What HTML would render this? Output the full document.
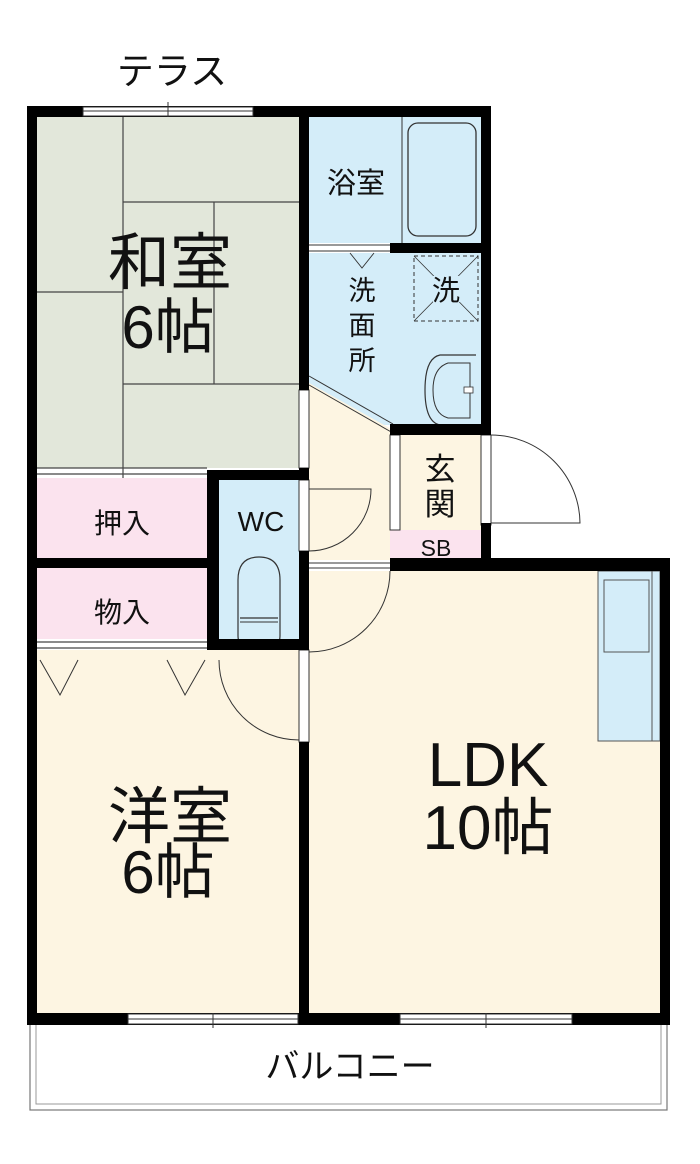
<!DOCTYPE html>
<html><head><meta charset="utf-8"><style>
html,body{margin:0;padding:0;background:#fff;}
svg{display:block;}
text{font-family:"Liberation Sans","Noto Sans CJK JP",sans-serif;fill:#111;}
</style></head><body>
<svg width="700" height="1164" viewBox="0 0 700 1164" xmlns="http://www.w3.org/2000/svg">
<rect x="30" y="1024" width="637" height="86" fill="#fff" stroke="#777" stroke-width="1.2"/>
<rect x="36" y="1024" width="625" height="80" fill="none" stroke="#999" stroke-width="1"/>
<rect x="37" y="117" width="262" height="351" fill="#e2e7da"/>
<rect x="309" y="117" width="172" height="126" fill="#d4edf9"/>
<rect x="309" y="253" width="172" height="172" fill="#d4edf9"/>
<polygon points="309,383 393,430 390,435 390,560 309,560" fill="#fdf5e2"/>
<rect x="400" y="435" width="81" height="95" fill="#fdf5e2"/>
<rect x="390" y="530" width="91" height="28" fill="#fbe3ee"/>
<rect x="37" y="478" width="170" height="80" fill="#fbe3ee"/>
<rect x="37" y="568" width="170" height="71" fill="#fbe3ee"/>
<rect x="219" y="480" width="80" height="159" fill="#d4edf9"/>
<rect x="37" y="650" width="262" height="363" fill="#fdf5e2"/>
<rect x="309" y="571" width="351" height="442" fill="#fdf5e2"/>
<rect x="598" y="571" width="62" height="170" fill="#d4edf9" stroke="#555" stroke-width="1"/>
<rect x="604" y="580" width="45" height="72" fill="none" stroke="#555" stroke-width="1"/>
<line x1="652" y1="571" x2="652" y2="741" stroke="#555" stroke-width="1"/>
<g stroke="#444" stroke-width="1.2">
<line x1="123" y1="117" x2="123" y2="478"/>
<line x1="123" y1="202" x2="299" y2="202"/>
<line x1="214" y1="202" x2="214" y2="384"/>
<line x1="123" y1="384" x2="299" y2="384"/>
<line x1="37" y1="292" x2="123" y2="292"/>
<line x1="37" y1="468" x2="207" y2="468"/>
<line x1="37" y1="474" x2="207" y2="474"/>
<line x1="37" y1="642" x2="207" y2="642"/>
<line x1="37" y1="648" x2="207" y2="648"/>
</g>
<rect x="408" y="123" width="68" height="113" rx="10" fill="#d4edf9" stroke="#333" stroke-width="1.3"/>
<line x1="402" y1="117" x2="402" y2="243" stroke="#333" stroke-width="1"/>
<rect x="414" y="256" width="64" height="65" fill="none" stroke="#333" stroke-width="1" stroke-dasharray="4,3"/>
<line x1="414" y1="256" x2="478" y2="321" stroke="#333" stroke-width="0.8"/>
<line x1="478" y1="256" x2="414" y2="321" stroke="#333" stroke-width="0.8"/>
<rect x="433" y="276" width="28" height="26" fill="#d4edf9"/>
<path d="M476,355 L440,355 Q425,358 425,390 Q425,422 440,425 L476,425" fill="#d4edf9" stroke="#333" stroke-width="1.2"/>
<path d="M470,363 L448,363 Q433,368 433,390 Q433,414 448,418 L470,418 Z" fill="none" stroke="#333" stroke-width="1"/>
<rect x="464" y="387" width="9" height="6" fill="#fff" stroke="#333" stroke-width="0.8"/>
<path d="M238,580 Q238,557 259,557 Q280,557 280,580 L280,636 Q280,646 270,646 L248,646 Q238,646 238,636 Z" fill="#d4edf9" stroke="#333" stroke-width="1.2"/>
<line x1="240" y1="618" x2="278" y2="618" stroke="#333" stroke-width="1.2"/>
<line x1="240" y1="622" x2="278" y2="622" stroke="#333" stroke-width="1"/>
<line x1="309" y1="245" x2="390" y2="245" stroke="#333" stroke-width="1"/>
<line x1="309" y1="251" x2="390" y2="251" stroke="#333" stroke-width="1"/>
<polyline points="350,253 362,268 374,253" fill="none" stroke="#333" stroke-width="0.9"/>
<line x1="309" y1="376" x2="393" y2="424" stroke="#333" stroke-width="1"/>
<line x1="309" y1="385" x2="393" y2="433" stroke="#333" stroke-width="1"/>
<g fill="none" stroke="#333" stroke-width="1">
<path d="M309,489 L371,489 A62,62 0 0 1 309,551"/>
<path d="M390,571 A81,81 0 0 1 309,652"/>
<path d="M219,660 A80,80 0 0 0 299,740"/>
<path d="M491,435 A89,89 0 0 1 580,523 L491,523"/>
<polyline points="40,660 60,695 78,660"/>
<polyline points="167,660 185,695 205,660"/>
<line x1="309" y1="563" x2="390" y2="563"/>
<line x1="309" y1="568" x2="390" y2="568"/>
<rect x="390" y="435" width="10" height="95"/>
<rect x="481" y="435" width="10" height="90"/>
<rect x="299" y="390" width="10" height="78"/>
<rect x="299" y="480" width="10" height="71"/>
<rect x="299" y="650" width="10" height="92"/>
</g>
<g fill="#000">
<rect x="27" y="106" width="10" height="919"/>
<rect x="27" y="106" width="464" height="11"/>
<rect x="299" y="106" width="10" height="284"/>
<rect x="481" y="106" width="10" height="329"/>
<rect x="390" y="243" width="101" height="10"/>
<rect x="390" y="424" width="101" height="11"/>
<rect x="481" y="523" width="10" height="47"/>
<rect x="390" y="558" width="280" height="13"/>
<rect x="660" y="558" width="10" height="467"/>
<rect x="27" y="1013" width="643" height="12"/>
<rect x="299" y="468" width="10" height="12"/>
<rect x="207" y="470" width="102" height="10"/>
<rect x="207" y="470" width="12" height="180"/>
<rect x="299" y="551" width="10" height="99"/>
<rect x="207" y="639" width="102" height="11"/>
<rect x="27" y="558" width="180" height="10"/>
<rect x="299" y="742" width="10" height="283"/>
</g>
<g fill="#fff" stroke="#333" stroke-width="1">
<rect x="83" y="107" width="170" height="9"/>
<rect x="128" y="1014" width="170" height="10"/>
<rect x="400" y="1014" width="172" height="10"/>
</g>
<g stroke="#333" stroke-width="1">
<line x1="83" y1="111" x2="253" y2="111"/>
<line x1="168" y1="102" x2="168" y2="117"/>
<line x1="128" y1="1019" x2="298" y2="1019"/>
<line x1="213" y1="1013" x2="213" y2="1028"/>
<line x1="400" y1="1019" x2="572" y2="1019"/>
<line x1="486" y1="1013" x2="486" y2="1028"/>
</g>
<text x="172" y="84" font-size="37" text-anchor="middle">テラス</text>
<text x="170" y="284" font-size="62" text-anchor="middle">和室</text>
<text x="168" y="348" font-size="60" text-anchor="middle">6帖</text>
<text x="356" y="193" font-size="29" text-anchor="middle">浴室</text>
<text x="362" y="300" font-size="27" text-anchor="middle">洗</text>
<text x="362" y="335" font-size="27" text-anchor="middle">面</text>
<text x="362" y="370" font-size="27" text-anchor="middle">所</text>
<text x="446" y="300" font-size="28" text-anchor="middle">洗</text>
<text x="440" y="480" font-size="31" text-anchor="middle">玄</text>
<text x="440" y="515" font-size="31" text-anchor="middle">関</text>
<text x="436" y="556" font-size="23" text-anchor="middle">SB</text>
<text x="261" y="531" font-size="28" text-anchor="middle">WC</text>
<text x="122" y="533" font-size="28" text-anchor="middle">押入</text>
<text x="122" y="622" font-size="28" text-anchor="middle">物入</text>
<text x="170" y="838" font-size="62" text-anchor="middle">洋室</text>
<text x="168" y="893" font-size="60" text-anchor="middle">6帖</text>
<text x="488" y="786" font-size="62" text-anchor="middle">LDK</text>
<text x="488" y="849" font-size="62" text-anchor="middle">10帖</text>
<text x="350" y="1078" font-size="34" text-anchor="middle">バルコニー</text>
</svg>
</body></html>
